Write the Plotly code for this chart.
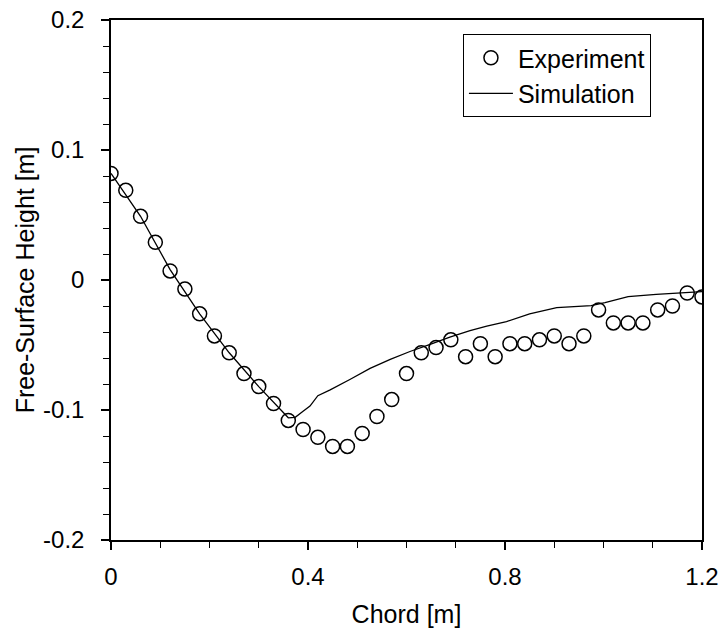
import plotly.graph_objects as go

# Experiment data
exp_x = [0.00, 0.03, 0.06, 0.09, 0.12, 0.15, 0.18, 0.21, 0.24, 0.27, 0.30, 0.33, 0.36, 0.39,
         0.42, 0.45, 0.48, 0.51, 0.54, 0.57, 0.60, 0.63, 0.66, 0.69, 0.72, 0.75, 0.78, 0.81,
         0.84, 0.87, 0.90, 0.93, 0.96, 0.99, 1.02, 1.05, 1.08, 1.11, 1.14, 1.17, 1.20]
exp_y = [0.082, 0.069, 0.049, 0.029, 0.007, -0.007, -0.026, -0.043, -0.056, -0.072, -0.082,
         -0.095, -0.108, -0.115, -0.121, -0.128, -0.128, -0.118, -0.105, -0.092, -0.072,
         -0.056, -0.052, -0.046, -0.059, -0.049, -0.059, -0.049, -0.049, -0.046, -0.043,
         -0.049, -0.043, -0.023, -0.033, -0.033, -0.033, -0.023, -0.020, -0.010, -0.013]

# Simulation line
sim_x = [0.00, 0.06, 0.12, 0.18, 0.24, 0.30, 0.36, 0.374, 0.39, 0.404, 0.42, 0.445, 0.485,
         0.526, 0.567, 0.607, 0.648, 0.688, 0.729, 0.763, 0.803, 0.85, 0.905, 0.975, 1.003,
         1.05, 1.107, 1.168, 1.20]
sim_y = [0.082, 0.049, 0.008, -0.026, -0.056, -0.082, -0.106, -0.1056, -0.101, -0.097,
         -0.089, -0.0845, -0.0765, -0.068, -0.061, -0.055, -0.0495, -0.044, -0.039, -0.0354,
         -0.032, -0.026, -0.0213, -0.0197, -0.0174, -0.0128, -0.011, -0.0095, -0.009]

x_ticks = [0, 0.4, 0.8, 1.2]
x_tick_text = ["0", "0.4", "0.8", "1.2"]
y_ticks = [-0.2, -0.1, 0, 0.1, 0.2]
y_tick_text = ["-0.2", "-0.1", "0", "0.1", "0.2"]

FONT = "Arial, Liberation Sans, sans-serif"

fig = go.Figure()
fig.add_trace(go.Scatter(
    x=exp_x, y=exp_y, mode="markers", name="Experiment",
    marker=dict(symbol="circle-open", size=14, color="black", line=dict(width=1.5, color="black")),
))
fig.add_trace(go.Scatter(
    x=sim_x, y=sim_y, mode="lines", name="Simulation",
    line=dict(color="black", width=1.3),
))

fig.update_layout(
    width=722, height=634,
    margin=dict(l=111, r=20, t=20, b=94, autoexpand=False),
    paper_bgcolor="white", plot_bgcolor="white",
    font=dict(family=FONT, size=24, color="black"),
    showlegend=True,
    legend=dict(
        x=0.5955, y=0.973, xanchor="left", yanchor="top",
        bordercolor="black", borderwidth=1, bgcolor="white",
        font=dict(family=FONT, size=25, color="black"),
        tracegroupgap=0, itemwidth=44, entrywidth=149, entrywidthmode="pixels",
    ),
)
fig.update_xaxes(
    range=[0, 1.2], tickvals=x_ticks, ticktext=x_tick_text, automargin=False,
    showline=True, linecolor="black", linewidth=1.5, mirror=True,
    ticks="outside", ticklen=8, tickwidth=1.5, tickcolor="black",
    showgrid=False, zeroline=False, ticklabelstandoff=6,
    minor=dict(dtick=0.1, ticks="outside", ticklen=6, tickwidth=1.2, tickcolor="black", showgrid=False),
    title=dict(text="Chord [m]", font=dict(family=FONT, size=25), standoff=17),
    tickfont=dict(family=FONT, size=24),
)
fig.update_yaxes(
    range=[-0.2, 0.2], tickvals=y_ticks, ticktext=y_tick_text, automargin=False,
    showline=True, linecolor="black", linewidth=1.5, mirror=True,
    ticks="outside", ticklen=8, tickwidth=1.5, tickcolor="black",
    showgrid=False, zeroline=False, ticklabelstandoff=12,
    minor=dict(dtick=0.02, ticks="outside", ticklen=6, tickwidth=1.2, tickcolor="black", showgrid=False),
    title=dict(text="Free-Surface Height [m]", font=dict(family=FONT, size=25), standoff=1),
    tickfont=dict(family=FONT, size=24),
)

fig.write_html("out.html")
